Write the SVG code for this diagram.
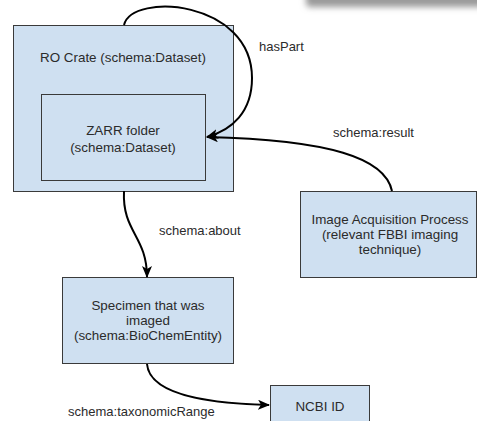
<svg xmlns="http://www.w3.org/2000/svg" width="477" height="421" viewBox="0 0 477 421">
  <style>
    .box { fill: #cfe0f1; stroke: #3a3a3a; stroke-width: 1; }
    .lbl { font-family: "Liberation Sans", Arial, sans-serif; font-size: 13.4px; fill: #2b2b2b; text-anchor: middle; }
    .edge-lbl { font-family: "Liberation Sans", Arial, sans-serif; font-size: 13px; fill: #2b2b2b; }
    .edge { fill: none; stroke: #000; stroke-width: 2; marker-end: url(#arrow); }
  </style>
  <defs>
    <marker id="arrow" viewBox="0 0 12 10" refX="11" refY="5" markerWidth="12" markerHeight="10" markerUnits="userSpaceOnUse" orient="auto">
      <path d="M0 0 L12 5 L0 10 L3 5 Z" fill="#000"/>
    </marker>
    <filter id="soft" x="-20%" y="-100%" width="140%" height="300%">
      <feGaussianBlur stdDeviation="3"/>
    </filter>
  </defs>

  <rect width="477" height="421" fill="#fff"/>

  <!-- drop shadow of the toolbar strip above -->
  <rect x="306" y="-20" width="200" height="27" rx="4" fill="#9a9a9a" filter="url(#soft)"/>

  <g id="ro-crate">
    <rect class="box" x="13.5" y="25.5" width="220" height="166"/>
    <text class="lbl" x="123" y="62">RO Crate (schema:Dataset)</text>
  </g>

  <g id="zarr-folder">
    <rect class="box" x="41.5" y="94.5" width="164" height="86"/>
    <text class="lbl" x="123" y="135">ZARR folder</text>
    <text class="lbl" x="123" y="152">(schema:Dataset)</text>
  </g>

  <g id="image-acquisition">
    <rect class="box" x="300.5" y="191.5" width="176" height="86"/>
    <text class="lbl" x="390" y="224">Image Acquisition Process</text>
    <text class="lbl" x="390" y="239">(relevant FBBI imaging</text>
    <text class="lbl" x="390" y="254">technique)</text>
  </g>

  <g id="specimen">
    <rect class="box" x="62.5" y="277.5" width="171" height="86"/>
    <text class="lbl" x="148" y="310">Specimen that was</text>
    <text class="lbl" x="148" y="325">imaged</text>
    <text class="lbl" x="148" y="340">(schema:BioChemEntity)</text>
  </g>

  <g id="ncbi-id">
    <rect class="box" x="270.5" y="385.5" width="99" height="40"/>
    <text class="lbl" x="320" y="411">NCBI ID</text>
  </g>

  <g id="connectors">
    <path class="edge" d="M124 25 C 132 -8, 252 0, 252 78 C 252 112, 232 130, 207 137"/>
    <path class="edge" d="M392 191 C 385 158, 330 140, 207 137"/>
    <path class="edge" d="M124 191 C 122 232, 147 236, 147 277"/>
    <path class="edge" d="M147 364 C 150 400, 230 404, 269 405"/>
    <text class="edge-lbl" x="259" y="51">hasPart</text>
    <text class="edge-lbl" x="333" y="137">schema:result</text>
    <text class="edge-lbl" x="159" y="235">schema:about</text>
    <text class="edge-lbl" x="68" y="416">schema:taxonomicRange</text>
  </g>
</svg>
